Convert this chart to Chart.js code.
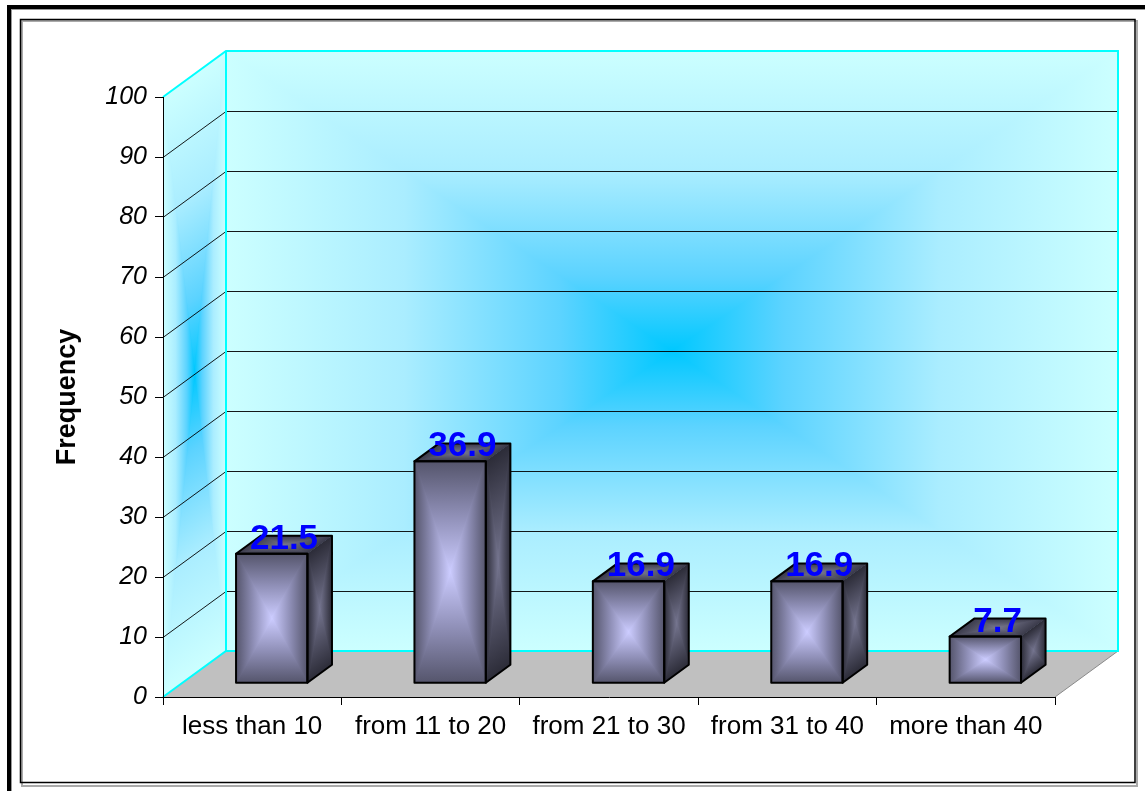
<!DOCTYPE html>
<html lang="en">
<head>
<meta charset="UTF-8">
<title>Frequency</title>
<script src="https://cdn.jsdelivr.net/npm/chart.js"></script>
<style>
  html, body { margin: 0; padding: 0; background: #fff; }
  canvas { display: block; }
</style>
</head>
<body>
<canvas id="grafico" width="1145" height="791"></canvas>
<script>
  const categories = ['less than 10', 'from 11 to 20', 'from 21 to 30', 'from 31 to 40', 'more than 40'];
  const frequency = [21.5, 36.9, 16.9, 16.9, 7.7];
  const yMin = 0, yMax = 100, yStep = 10;

  // 3D look (pixels / fractions of the depth)
  const DEPTH_X = 63, DEPTH_Y = -46;
  const BAR_FRONT = 0.31, BAR_DEPTH = 0.39;

  const wallStops = [[0, '#00c8ff'], [0.25, '#5cd3ff'], [0.6, '#aaedff'], [1, '#ccffff']];
  const frontStops = [[0, '#ccccff'], [0.5, '#9090b8'], [1, '#55556c']];
  const sideStops = [[0, '#74748e'], [1, '#2c2c38']];
  const topStops = [[0, '#76768c'], [1, '#3a3a4a']];

  // "from center" rectangular gradient on a parallelogram o + u*s + v*t
  function rectGradient(ctx, o, u, v, stops) {
    ctx.save();
    ctx.transform(u[0], u[1], v[0], v[1], o[0], o[1]);
    ctx.beginPath();
    ctx.rect(0, 0, 1, 1);
    ctx.clip();
    ctx.fillStyle = stops[stops.length - 1][1];
    ctx.fillRect(0, 0, 1, 1);
    const lu = Math.hypot(u[0], u[1]), lv = Math.hypot(v[0], v[1]);
    ctx.lineWidth = 1.2 / Math.min(lu, lv);
    const tris = [
      [[0, 0], [1, 0], [0.5, 0]],
      [[1, 0], [1, 1], [1, 0.5]],
      [[1, 1], [0, 1], [0.5, 1]],
      [[0, 1], [0, 0], [0, 0.5]]
    ];
    tris.forEach(([p, q, m]) => {
      const g = ctx.createLinearGradient(0.5, 0.5, m[0], m[1]);
      stops.forEach(s => g.addColorStop(s[0], s[1]));
      ctx.beginPath();
      ctx.moveTo(0.5, 0.5);
      ctx.lineTo(p[0], p[1]);
      ctx.lineTo(q[0], q[1]);
      ctx.closePath();
      ctx.fillStyle = g;
      ctx.strokeStyle = g;
      ctx.fill();
      ctx.stroke();
    });
    ctx.restore();
  }

  function poly(ctx, pts) {
    ctx.beginPath();
    ctx.moveTo(pts[0][0], pts[0][1]);
    for (let i = 1; i < pts.length; i++) ctx.lineTo(pts[i][0], pts[i][1]);
    ctx.closePath();
  }

  const decor = {
    id: 'decor',
    beforeDraw(chart) {
      const { ctx, chartArea: a, scales: { y } } = chart;
      const top = y.getPixelForValue(yMax), bot = y.getPixelForValue(yMin);
      const h = bot - top, w = a.right - a.left;
      ctx.save();
      ctx.fillStyle = '#fff';
      ctx.fillRect(0, 0, chart.width, chart.height);

      // frame
      ctx.strokeStyle = '#000';
      ctx.lineWidth = 4;
      ctx.strokeRect(9, 7, chart.width + 20, chart.height + 20);
      ctx.strokeStyle = '#999';
      ctx.lineWidth = 1;
      ctx.strokeRect(11.5, 9.5, chart.width + 20, chart.height + 20);
      ctx.strokeStyle = '#aaa';
      ctx.lineWidth = 2;
      ctx.strokeRect(22, 21, 1115, 765);
      ctx.strokeStyle = '#000';
      ctx.lineWidth = 1.5;
      ctx.strokeRect(20.5, 19.5, 1114.5, 763);

      // walls
      rectGradient(ctx, [a.left + DEPTH_X, top + DEPTH_Y], [w, 0], [0, h], wallStops);
      rectGradient(ctx, [a.left, top], [DEPTH_X, DEPTH_Y], [0, h], wallStops);

      // floor
      poly(ctx, [[a.left, bot], [a.left + DEPTH_X, bot + DEPTH_Y], [a.right + DEPTH_X, bot + DEPTH_Y], [a.right, bot]]);
      ctx.fillStyle = '#c0c0c0';
      ctx.fill();
      ctx.strokeStyle = '#8a8a8a';
      ctx.lineWidth = 1;
      ctx.beginPath();
      ctx.moveTo(a.right, bot);
      ctx.lineTo(a.right + DEPTH_X, bot + DEPTH_Y);
      ctx.stroke();

      // grid lines on the walls
      ctx.strokeStyle = 'rgba(0,0,0,0.9)';
      ctx.lineWidth = 1;
      y.ticks.forEach(t => {
        if (t.value <= yMin || t.value >= yMax) return;
        const yy = Math.round(y.getPixelForValue(t.value)) + 0.5;
        ctx.beginPath();
        ctx.moveTo(a.left, yy);
        ctx.lineTo(a.left + DEPTH_X, yy + DEPTH_Y);
        ctx.lineTo(a.right + DEPTH_X, yy + DEPTH_Y);
        ctx.stroke();
      });

      // cyan wall edges
      ctx.strokeStyle = '#00ffff';
      ctx.lineWidth = 2;
      ctx.beginPath();
      ctx.moveTo(a.left, top);
      ctx.lineTo(a.left + DEPTH_X, top + DEPTH_Y);
      ctx.lineTo(a.right + DEPTH_X, top + DEPTH_Y);
      ctx.lineTo(a.right + DEPTH_X, bot + DEPTH_Y);
      ctx.lineTo(a.left + DEPTH_X, bot + DEPTH_Y);
      ctx.lineTo(a.left, bot);
      ctx.moveTo(a.left + DEPTH_X, top + DEPTH_Y);
      ctx.lineTo(a.left + DEPTH_X, bot + DEPTH_Y);
      ctx.stroke();
      ctx.restore();
    },
    afterDatasetsDraw(chart) {
      const { ctx, scales: { y } } = chart;
      const meta = chart.getDatasetMeta(0);
      const fx = DEPTH_X * BAR_FRONT, fy = DEPTH_Y * BAR_FRONT;
      const dx = DEPTH_X * BAR_DEPTH, dy = DEPTH_Y * BAR_DEPTH;
      ctx.save();
      meta.data.forEach((bar, i) => {
        const v = frequency[i];
        const left = bar.x - bar.width / 2 + fx, right = bar.x + bar.width / 2 + fx;
        const base = y.getPixelForValue(yMin) + fy;
        const topY = y.getPixelForValue(v) + fy;
        const bw = right - left, bh = base - topY;

        rectGradient(ctx, [left, topY], [bw, 0], [0, bh], frontStops);
        rectGradient(ctx, [right, topY], [dx, dy], [0, bh], sideStops);
        rectGradient(ctx, [left, topY], [dx, dy], [bw, 0], topStops);

        ctx.strokeStyle = '#000';
        ctx.lineWidth = 2;
        ctx.lineJoin = 'round';
        ctx.strokeRect(left, topY, bw, bh);
        poly(ctx, [[left, topY], [left + dx, topY + dy], [right + dx, topY + dy], [right + dx, base + dy], [right, base], [right, topY]]);
        ctx.stroke();

        ctx.fillStyle = '#0000ff';
        ctx.font = 'bold 35px "Liberation Sans", Arial, sans-serif';
        ctx.textAlign = 'center';
        ctx.textBaseline = 'alphabetic';
        ctx.fillText(v.toFixed(1), (left + right) / 2 + dx / 2, topY - 5);
      });
      ctx.restore();
    }
  };

  const ctx = document.getElementById('grafico').getContext('2d');
  new Chart(ctx, {
    type: 'bar',
    data: {
      labels: categories,
      datasets: [{
        label: 'Frequency',
        data: frequency,
        backgroundColor: 'rgba(0,0,0,0)',
        borderWidth: 0,
        barPercentage: 0.4,
        categoryPercentage: 1
      }]
    },
    options: {
      responsive: false,
      animation: false,
      layout: { padding: { left: 20, top: 97, right: 90, bottom: 20 } },
      plugins: {
        legend: { display: false },
        tooltip: { enabled: false }
      },
      scales: {
        x: {
          offset: true,
          afterFit: s => { s.height = 74; },
          grid: { offset: true, drawOnChartArea: false, tickLength: 8, color: '#000' },
          border: { color: '#000', width: 1 },
          ticks: {
            color: '#000',
            padding: 6,
            maxRotation: 0,
            autoSkip: false,
            font: { family: '"Liberation Sans", Arial, sans-serif', size: 26 }
          }
        },
        y: {
          min: yMin,
          max: yMax,
          afterFit: s => { s.width = 143; },
          grid: { drawOnChartArea: false, tickLength: 8, color: '#000' },
          border: { color: '#000', width: 1 },
          ticks: {
            stepSize: yStep,
            color: '#000',
            padding: 8,
            font: { family: '"Liberation Sans", Arial, sans-serif', size: 25, style: 'italic' }
          },
          title: {
            display: true,
            text: 'Frequency',
            color: '#000',
            padding: { top: 31, bottom: 0 },
            font: { family: '"Liberation Sans", Arial, sans-serif', size: 27, weight: 'bold' }
          }
        }
      }
    },
    plugins: [decor]
  });
</script>
</body>
</html>
